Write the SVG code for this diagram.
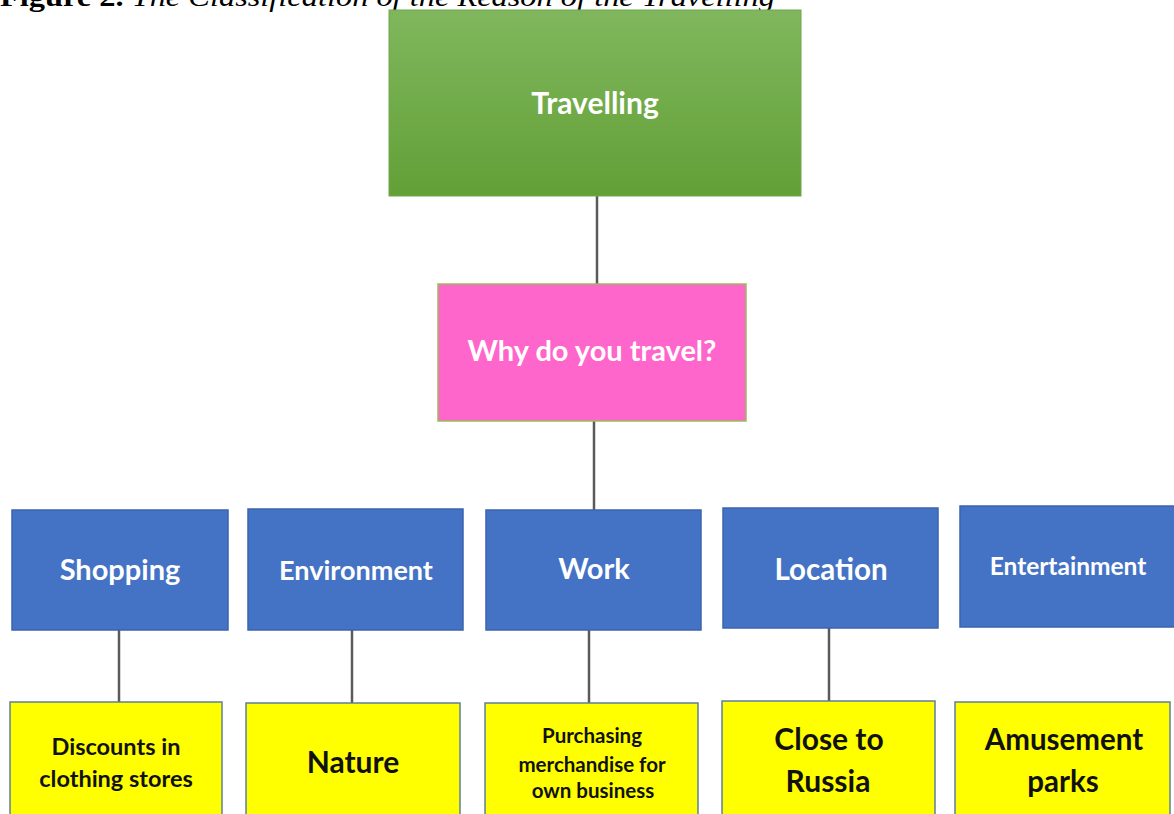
<svg xmlns="http://www.w3.org/2000/svg" width="1174" height="814" viewBox="0 0 1174 814">
  <defs>
    <linearGradient id="greenFill" x1="0" y1="0" x2="0" y2="1">
      <stop offset="0" stop-color="#80b75e"/>
      <stop offset="1" stop-color="#62a036"/>
    </linearGradient>
  </defs>
  <style>
    .title { font-family: "Liberation Serif", "Times New Roman", serif; font-size: 27px; fill: #000; }
    .lbl { font-family: Lato, "Open Sans", sans-serif; font-weight: bold; text-anchor: middle; }
    .white { fill: #ffffff; }
    .dark { fill: #111111; }
    .blue { fill: #4472c4; stroke: #3b64ad; stroke-width: 1.5; }
    .yellow { fill: #ffff00; stroke: #5f7f9c; stroke-width: 1.5; }
    .link { stroke: #5a5a5a; stroke-width: 2.5; fill: none; }
  </style>

  <rect width="1174" height="814" fill="#ffffff"/>

  <!-- caption, clipped at the top edge -->
  <text class="title" x="0" y="6" textLength="775" lengthAdjust="spacingAndGlyphs"><tspan font-weight="bold">Figure 2.</tspan><tspan font-style="italic"> The Classification of the Reason of the Travelling</tspan></text>

  <g id="connectors">
    <line class="link" x1="597" y1="196" x2="597" y2="284"/>
    <line class="link" x1="594" y1="421" x2="594" y2="510"/>
    <line class="link" x1="119" y1="630" x2="119" y2="702"/>
    <line class="link" x1="352" y1="630" x2="352" y2="703"/>
    <line class="link" x1="589" y1="630" x2="589" y2="703"/>
    <line class="link" x1="829" y1="628" x2="829" y2="702"/>
  </g>

  <g id="travelling">
    <rect x="389" y="10" width="412" height="186" fill="url(#greenFill)" stroke="#6fa84a" stroke-width="1"/>
    <text class="lbl white" x="595" y="114" font-size="30">Travelling</text>
  </g>

  <g id="why">
    <rect x="438" y="284" width="308" height="137" fill="#ff66cc" stroke="#9bbb59" stroke-width="1.5"/>
    <text class="lbl white" x="592" y="361" font-size="29">Why do you travel?</text>
  </g>

  <g id="shopping">
    <rect class="blue" x="12" y="510" width="216" height="120"/>
    <text class="lbl white" x="120" y="580" font-size="29">Shopping</text>
  </g>
  <g id="environment">
    <rect class="blue" x="248" y="509" width="215" height="121"/>
    <text class="lbl white" x="356" y="580" font-size="27">Environment</text>
  </g>
  <g id="work">
    <rect class="blue" x="486" y="510" width="215" height="120"/>
    <text class="lbl white" x="594" y="579" font-size="29">Work</text>
  </g>
  <g id="location">
    <rect class="blue" x="723" y="508" width="215" height="120"/>
    <text class="lbl white" x="831" y="580" font-size="29.5">Location</text>
  </g>
  <g id="entertainment">
    <rect class="blue" x="960" y="506" width="216" height="121"/>
    <text class="lbl white" x="1068" y="575" font-size="24.5">Entertainment</text>
  </g>

  <g id="discounts">
    <rect class="yellow" x="10" y="702" width="212" height="116"/>
    <text class="lbl dark" font-size="23.5"><tspan x="116" y="755">Discounts in</tspan><tspan x="116" y="787">clothing stores</tspan></text>
  </g>
  <g id="nature">
    <rect class="yellow" x="246" y="703" width="214" height="115"/>
    <text class="lbl dark" x="353" y="773" font-size="30">Nature</text>
  </g>
  <g id="purchasing">
    <rect class="yellow" x="485" y="703" width="213" height="115"/>
    <text class="lbl dark" font-size="20.5"><tspan x="592" y="743">Purchasing</tspan><tspan x="592" y="772">merchandise for</tspan><tspan x="593" y="798">own business</tspan></text>
  </g>
  <g id="close">
    <rect class="yellow" x="722" y="701" width="213" height="117"/>
    <text class="lbl dark" font-size="30"><tspan x="829" y="750">Close to</tspan><tspan x="828" y="792">Russia</tspan></text>
  </g>
  <g id="amusement">
    <rect class="yellow" x="955" y="702" width="215" height="116"/>
    <text class="lbl dark" font-size="29.5"><tspan x="1064" y="750">Amusement</tspan><tspan x="1063" y="792">parks</tspan></text>
  </g>
</svg>
